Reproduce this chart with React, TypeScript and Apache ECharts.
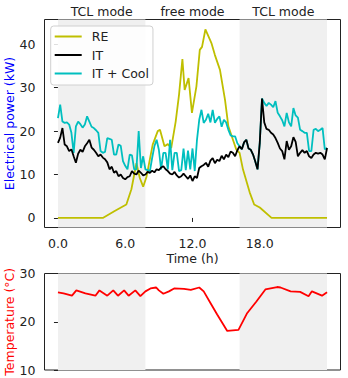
import React, { useEffect, useRef } from "react";
import * as echarts from "echarts";

const STEP_H = 0.2;

const itPower = [
  17.3, 18.5, 20.7, 16.9, 16.5, 15.4, 15.8, 14.2, 12.7, 14.8,
  15.7, 15.2, 16.5, 17.2, 18.0, 16.2, 15.7, 15.0, 14.2, 14.6,
  13.9, 13.5, 12.8, 11.2, 11.8, 10.4, 10.8, 9.6, 10.0, 9.2,
  8.9, 9.4, 9.6, 10.8, 10.2, 10.0, 10.9, 10.4, 9.8, 10.0,
  10.6, 10.4, 10.9, 10.5, 11.2, 11.0, 11.6, 11.9, 11.2, 10.8,
  10.2, 10.0, 10.6, 9.8, 9.3, 9.6, 10.2, 9.6, 9.0, 9.8,
  8.5, 9.6, 9.2, 11.5, 11.9, 12.2, 12.7, 11.8, 13.2, 13.8,
  12.6, 13.4, 13.1, 14.3, 13.5, 14.6, 14.0, 15.3, 15.0, 14.2,
  15.6, 16.5, 15.8, 17.4, 18.0, 16.0, 15.7, 14.6, 13.0, 11.2,
  17.3, 27.5, 22.0, 20.5, 20.3, 19.6, 19.2, 18.4, 17.3, 16.0,
  15.4, 13.5, 17.7, 15.7, 16.5, 18.6, 17.5, 14.2, 15.0, 15.6,
  15.0, 15.4, 14.2, 13.8, 14.6, 15.0, 14.8, 15.0, 14.6, 13.5,
  16.1,
];

const itCoolPower = [
  23.0, 26.1, 22.2, 21.9, 22.0, 21.5, 19.6, 15.0, 21.1, 22.2,
  21.6, 20.8, 21.5, 23.4, 22.2, 21.0, 20.7, 20.2, 19.6, 15.4,
  15.0, 15.2, 18.4, 18.2, 18.0, 14.6, 14.6, 16.9, 16.6, 13.1,
  12.0, 11.2, 14.6, 14.4, 11.2, 11.2, 20.0, 11.5, 14.2, 11.2,
  11.0, 10.8, 13.8, 16.5, 18.0, 15.7, 11.2, 15.0, 15.0, 11.2,
  18.0, 11.0, 15.0, 15.0, 10.8, 11.0, 16.0, 11.0, 15.5, 11.2,
  16.0, 10.8, 18.0, 22.6, 24.9, 21.9, 22.6, 24.0, 22.0, 24.9,
  21.9, 22.8, 23.4, 21.0, 22.6, 22.0, 20.3, 19.0, 18.8, 18.8,
  17.2, 16.5, 15.8, 17.4, 18.0, 16.0, 15.7, 14.6, 13.0, 11.2,
  17.3, 27.5, 26.5, 25.8, 26.5, 26.1, 25.5, 26.9, 24.2, 23.4,
  22.5, 21.1, 24.2, 22.0, 21.1, 25.3, 23.6, 23.1, 20.3, 20.0,
  19.6, 19.6, 15.4, 15.4, 20.3, 20.5, 20.0, 20.3, 20.7, 15.8,
  16.1,
];

const reTimes = [
  0, 4.0, 5.06, 6.1, 6.55, 7.0, 7.3, 7.6, 7.9, 8.45,
  8.9, 9.1, 9.5, 9.8, 10.1, 10.5, 10.8, 11.1, 11.3, 11.65,
  11.95, 12.35, 12.65, 12.85, 13.15, 13.7, 14.0, 14.45, 14.9, 15.2,
  15.5, 15.9, 16.2, 16.5, 17.1, 17.5, 18.0, 19.05, 24,
];
const rePower = [
  0, 0, 1.6, 3.1, 6.6, 12.6, 9.2, 7.2, 9.5, 16.9,
  20.0, 20.3, 16.5, 17.0, 16.1, 22.2, 28.4, 36.6, 29.5, 32.2,
  24.2, 30.3, 38.7, 39.4, 43.4, 40.2, 37.5, 34.1, 27.2, 21.1,
  18.8, 15.8, 15.0, 11.2, 5.9, 3.1, 2.4, 0, 0,
];

const tempTimes = [
  0, 0.5, 1.25, 1.64, 2.45, 3.34, 3.7, 4.4, 4.93, 5.35,
  5.9, 6.3, 6.9, 7.35, 7.8, 8.25, 8.75, 9.0, 9.4, 9.9,
  10.36, 11.25, 11.85, 12.6, 13.0, 13.6, 14.2, 15.1, 16.1, 16.85,
  17.7, 18.5, 19.55, 19.85, 20.75, 21.6, 22.35, 22.65, 23.55, 24.0,
];
const temperature = [
  26.1, 25.9, 25.4, 26.5, 25.9, 25.4, 26.5, 25.4, 26.5, 25.4,
  26.5, 25.4, 26.5, 25.3, 26.3, 26.9, 27.1, 26.5, 25.8, 26.3,
  26.9, 26.8, 26.6, 27.1, 26.3, 23.9, 21.5, 18.1, 18.3, 21.7,
  24.2, 26.7, 27.2, 27.1, 26.3, 26.2, 25.3, 26.3, 25.4, 26.1,
];

const modeRegions = [
  [0, 7.8],
  [7.8, 16.2],
  [16.2, 24],
];
const modeLabels = ["TCL mode", "free mode", "TCL mode"];
const shadedRegions = [
  [0, 7.8],
  [16.2, 24],
];
const timeTicks = [0, 6, 12, 18];
const powerTicks = [0, 10, 20, 30, 40];

const FONT = "DejaVu Sans";
const FS = 12.5;
const TXT = "#222";

export default function App() {
  const ref = useRef<HTMLDivElement>(null);

  useEffect(() => {
    if (!ref.current) return;
    const chart = echarts.init(ref.current, undefined, { renderer: "svg" });

    const itData = itPower.map((v, i) => [i * STEP_H, v]);
    const coolData = itCoolPower.map((v, i) => [i * STEP_H, v]);
    const reData = reTimes.map((t, i) => [t, rePower[i]]);
    const tempData = tempTimes.map((t, i) => [t, temperature[i]]);
    const modeCenters = modeRegions.map(([a, b]) => (a + b) / 2);
    const shade = {
      silent: true,
      itemStyle: { color: "#f0f0f0" },
      data: shadedRegions.map(([a, b]) => [{ xAxis: a }, { xAxis: b }]),
    };

    const labelStyle = { fontFamily: FONT, fontSize: FS, color: TXT };

    chart.setOption({
      animation: false,
      textStyle: { fontFamily: FONT },
      grid: [
        {
          left: 44.5, top: 19.5, width: 296, height: 208, show: true,
          borderColor: "#222", borderWidth: 1, containLabel: false, outerBoundsMode: "none",
        },
        {
          left: 44.5, top: 273.5, width: 296, height: 96.5, show: true,
          borderColor: "#222", borderWidth: 1, containLabel: false, outerBoundsMode: "none",
        },
      ],
      xAxis: [
        {
          gridIndex: 0,
          type: "value",
          min: -1.2,
          max: 25.2,
          splitLine: { show: false },
          axisLine: { show: false },
          axisTick: { show: true, customValues: timeTicks, length: 4, lineStyle: { color: "#222" } },
          axisLabel: { ...labelStyle, customValues: timeTicks, margin: 9, formatter: (v: number) => v.toFixed(1) },
          name: "Time (h)",
          nameLocation: "middle",
          nameGap: 24.5,
          nameMoveOverlap: false,
          nameTextStyle: labelStyle,
        },
        {
          gridIndex: 0,
          type: "value",
          position: "top",
          min: -1.2,
          max: 25.2,
          splitLine: { show: false },
          axisLine: { show: false },
          axisTick: { show: false },
          axisLabel: {
            ...labelStyle,
            customValues: modeCenters,
            margin: 2,
            formatter: (v: number) => {
              const i = modeCenters.findIndex((c) => Math.abs(c - v) < 1e-6);
              return i >= 0 ? modeLabels[i] : "";
            },
          },
        },
        {
          gridIndex: 1,
          type: "value",
          min: -1.2,
          max: 25.2,
          splitLine: { show: false },
          axisLine: { show: false },
          axisTick: { show: false },
          axisLabel: { show: false },
        },
      ],
      yAxis: [
        {
          gridIndex: 0,
          type: "value",
          min: -2.2,
          max: 45.7,
          splitLine: { show: false },
          axisLine: { show: false },
          axisTick: { show: true, customValues: powerTicks, length: 4, lineStyle: { color: "#222" } },
          axisLabel: { ...labelStyle, customValues: powerTicks, margin: 9 },
          name: "Electrical power (kW)",
          nameLocation: "middle",
          nameRotate: 90,
          nameGap: 29,
          nameMoveOverlap: false,
          nameTextStyle: { fontFamily: FONT, fontSize: FS, color: "#0000ff" },
        },
        {
          gridIndex: 1,
          type: "value",
          min: 10,
          max: 30,
          interval: 10,
          splitLine: { show: false },
          axisLine: { show: false },
          axisTick: { show: true, length: 4, lineStyle: { color: "#222" } },
          axisLabel: { ...labelStyle, margin: 9 },
          name: "Temperature (°C)",
          nameLocation: "middle",
          nameRotate: 90,
          nameGap: 29,
          nameMoveOverlap: false,
          nameTextStyle: { fontFamily: FONT, fontSize: FS, color: "#ff0000" },
        },
      ],
      legend: {
        left: 50.7,
        top: 26,
        orient: "vertical",
        data: ["RE", "IT", "IT + Cool"],
        icon: "rect",
        itemWidth: 27,
        itemHeight: 2,
        itemGap: 5.5,
        padding: [4, 4, 5, 4],
        backgroundColor: "rgba(255,255,255,0.85)",
        borderColor: "#d0d0d0",
        borderWidth: 1,
        borderRadius: 3,
        textStyle: { fontFamily: FONT, fontSize: FS, color: TXT, padding: [0, 0, 0, 5] },
      },
      series: [
        { type: "line", name: "shade-top", xAxisIndex: 0, yAxisIndex: 0, data: [], z: 1, markArea: shade },
        { type: "line", name: "shade-bottom", xAxisIndex: 2, yAxisIndex: 1, data: [], z: 1, markArea: shade },
        {
          type: "line", name: "RE", xAxisIndex: 0, yAxisIndex: 0, data: reData, symbol: "none", z: 3,
          lineStyle: { color: "#bfbf00", width: 1.8 }, itemStyle: { color: "#bfbf00" },
        },
        {
          type: "line", name: "IT + Cool", xAxisIndex: 0, yAxisIndex: 0, data: coolData, symbol: "none", z: 4,
          lineStyle: { color: "#00bfbf", width: 1.8 }, itemStyle: { color: "#00bfbf" },
        },
        {
          type: "line", name: "IT", xAxisIndex: 0, yAxisIndex: 0, data: itData, symbol: "none", z: 5,
          lineStyle: { color: "#000000", width: 1.8 }, itemStyle: { color: "#000000" },
        },
        {
          type: "line", name: "Temperature", xAxisIndex: 2, yAxisIndex: 1, data: tempData, symbol: "none", z: 3,
          lineStyle: { color: "#ff0000", width: 1.8 }, itemStyle: { color: "#ff0000" },
        },
      ],
    });

    return () => chart.dispose();
  }, []);

  return (
    <div
      ref={ref}
      style={{ position: "fixed", left: 0, top: 0, width: 348, height: 378, background: "#fff" }}
    />
  );
}
